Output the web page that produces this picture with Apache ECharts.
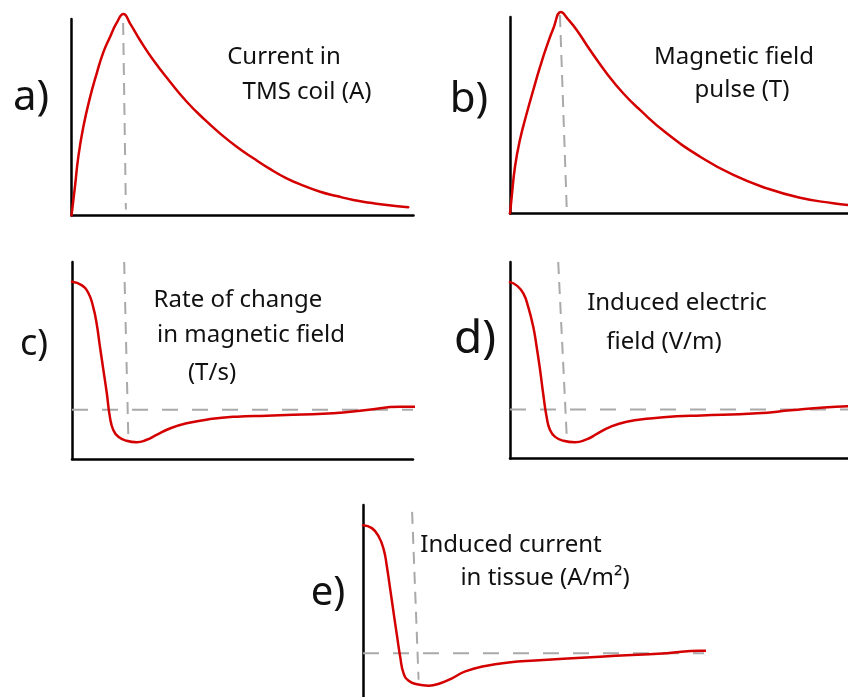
<!DOCTYPE html>
<html>
<head>
<meta charset="utf-8">
<title>TMS pulse waveforms</title>
<script src="https://cdn.jsdelivr.net/npm/echarts@6/dist/echarts.min.js"></script>
<style>
  html, body { margin: 0; padding: 0; background: #ffffff; }
  #chart { width: 848px; height: 697px; }
</style>
</head>
<body>
<div id="chart"></div>
<script>
// Time runs 0..100 (arbitrary units) on every panel.
// a) coil current, b) magnetic field pulse: normalised to peak ~1.
const coilCurrent = [[0,0],[1.0,0.145],[2.0,0.30],[3.45,0.45],[5.4,0.60],[7.4,0.725],[9.3,0.83],[11.3,0.91],[13.2,0.98],[15.2,1.025],[17.1,0.978],[20.0,0.893],[23.9,0.791],[28.8,0.681],[33.7,0.579],[38.5,0.495],[43.4,0.418],[48.3,0.350],[53.2,0.291],[58.0,0.237],[62.9,0.189],[67.8,0.152],[72.7,0.121],[77.5,0.099],[82.4,0.079],[87.3,0.065],[92.2,0.053],[98.5,0.042]];
const fieldPulse = [[0,0],[0.5,0.085],[1.46,0.238],[2.9,0.374],[4.9,0.51],[6.8,0.628],[8.8,0.747],[10.7,0.849],[12.7,0.943],[14.9,1.025],[16.9,0.99],[19.5,0.934],[23.4,0.832],[28.3,0.713],[33.1,0.612],[38.0,0.527],[45.8,0.408],[55.6,0.289],[65.3,0.196],[75.1,0.128],[84.8,0.080],[94.5,0.052],[98.9,0.043]];

// c) dB/dt, d) induced E-field, e) induced current density (zero = dashed baseline).
const fieldRate = [[0,2.6],[2.8,2.53],[4.8,2.37],[6.2,2.09],[7.2,1.76],[8.2,1.28],[9.2,0.81],[10.2,0.34],[11.1,-0.14],[12.1,-0.41],[13.6,-0.55],[16.0,-0.63],[19.0,-0.66],[21.9,-0.61],[24.8,-0.51],[28.7,-0.38],[33.6,-0.275],[40.5,-0.19],[48.3,-0.14],[57.1,-0.12],[76.6,-0.07],[86.4,-0.005],[96.2,0.06],[102.6,0.06]];
const electricField = [[0,2.59],[2.0,2.52],[3.9,2.36],[5.35,2.08],[6.8,1.68],[7.8,1.27],[8.8,0.80],[9.7,0.32],[10.7,-0.15],[11.7,-0.42],[13.2,-0.56],[15.6,-0.64],[19.0,-0.67],[22.4,-0.61],[25.4,-0.50],[29.2,-0.36],[34.1,-0.25],[40.9,-0.185],[48.7,-0.14],[56.0,-0.125],[72.3,-0.08],[82.1,-0.02],[91.8,0.04],[98.8,0.065]];
const tissueCurrent = [[0,2.6],[2.6,2.54],[4.6,2.37],[6.1,2.10],[7.0,1.76],[8.0,1.29],[9.0,0.81],[10.0,0.34],[10.9,-0.07],[11.9,-0.41],[13.4,-0.56],[15.8,-0.63],[19.3,-0.66],[22.7,-0.61],[26.1,-0.51],[30.0,-0.37],[35.9,-0.26],[42.7,-0.19],[50.5,-0.15],[69.5,-0.07],[89.1,0.0],[98.8,0.05],[102.3,0.05]];

// Peak-time markers (vertical dashed guides) and zero baselines.
const peakMarkA = [[15.1,0.98],[15.9,0.03]];
const peakMarkB = [[14.6,1.01],[16.6,0.02]];
const peakMarkC = [[15.3,3.0],[16.5,-0.51]];
const peakMarkD = [[14.1,3.0],[16.6,-0.56]];
const peakMarkE = [[14.4,2.87],[16.3,-0.54]];
const zeroLine = [[0,0],[100,0]];

// Text
const panelLetters = ['a)', 'b)', 'c)', 'd)', 'e)'];
const panelTitles = [
  ['Current in', 'TMS coil (A)'],
  ['Magnetic field', 'pulse (T)'],
  ['Rate of change', 'in magnetic field', '(T/s)'],
  ['Induced electric', 'field (V/m)'],
  ['Induced current', 'in tissue (A/m\u00B2)']
];

// Layout (b and d run off the right edge, e runs off the bottom edge)
const grids = [
  { left: 71.5, top: 19, width: 342, height: 196.5 },
  { left: 510, top: 17, width: 338, height: 196.5 },
  { left: 72, top: 262, width: 341, height: 197 },
  { left: 510, top: 262, width: 338, height: 196.5 },
  { left: 363, top: 505, width: 341, height: 192 }
];
const xMax = [100, 98.83, 100, 98.83, 100];
const yRanges = [[0,1],[0,1],[-1,3],[-1,3],[-0.89,3.01]];
const showXAxisLine = [true, true, true, true, false];
const letterPos = [
  { x: 31, y: 98, size: 42 },
  { x: 469, y: 100, size: 42 },
  { x: 34, y: 345, size: 36 },
  { x: 475, y: 340, size: 46 },
  { x: 328, y: 594, size: 40 }
];
const titlePos = [
  [[284,57],[307,92]],
  [[734,57],[742,90]],
  [[238,300],[251,335],[212,373]],
  [[677,303],[664,342]],
  [[511,545],[545,578]]
];

const RED = '#d40000';
const GREY = '#a9a9a9';
const FONT = '"Noto Sans", "DejaVu Sans", sans-serif';

const curves = [coilCurrent, fieldPulse, fieldRate, electricField, tissueCurrent];
const peaks = [peakMarkA, peakMarkB, peakMarkC, peakMarkD, peakMarkE];

const lineBlack = { color: '#000', width: 2.5 };

const xAxes = grids.map((g, i) => ({
  type: 'value', gridIndex: i, min: 0, max: xMax[i],
  axisLine: { show: showXAxisLine[i], onZero: false, lineStyle: lineBlack },
  axisTick: { show: false }, axisLabel: { show: false }, splitLine: { show: false }
}));
const yAxes = grids.map((g, i) => ({
  type: 'value', gridIndex: i, min: yRanges[i][0], max: yRanges[i][1],
  axisLine: { show: true, onZero: false, lineStyle: lineBlack },
  axisTick: { show: false }, axisLabel: { show: false }, splitLine: { show: false }
}));

const series = [];
curves.forEach((data, i) => {
  if (i >= 2) {
    series.push({
      type: 'line', xAxisIndex: i, yAxisIndex: i, data: zeroLine, symbol: 'none', clip: false, z: 1,
      lineStyle: { color: GREY, width: 2, type: [16, 14] }, silent: true
    });
  }
  series.push({
    type: 'line', xAxisIndex: i, yAxisIndex: i, data: peaks[i], symbol: 'none', clip: false, z: 1,
    lineStyle: { color: GREY, width: 2, type: [12, 8] }, silent: true
  });
  series.push({
    type: 'line', xAxisIndex: i, yAxisIndex: i, data, symbol: 'none', clip: false, z: 3,
    smooth: 0.5, lineStyle: { color: RED, width: 2.5, cap: 'round', join: 'round' }, silent: true
  });
});

const graphic = [];
panelLetters.forEach((t, i) => {
  const p = letterPos[i];
  graphic.push({
    type: 'text', x: p.x, y: p.y, silent: true,
    style: { text: t, fill: '#111', font: p.size + 'px ' + FONT, align: 'center', verticalAlign: 'middle' }
  });
});
panelTitles.forEach((lines, i) => {
  lines.forEach((t, j) => {
    const p = titlePos[i][j];
    graphic.push({
      type: 'text', x: p[0], y: p[1], silent: true,
      style: { text: t, fill: '#111', font: '24px ' + FONT, align: 'center', verticalAlign: 'middle' }
    });
  });
});

const chart = echarts.init(document.getElementById('chart'), null, { renderer: 'canvas' });
chart.setOption({
  backgroundColor: '#ffffff',
  animation: false,
  grid: grids,
  xAxis: xAxes,
  yAxis: yAxes,
  series,
  graphic
});
</script>
</body>
</html>
